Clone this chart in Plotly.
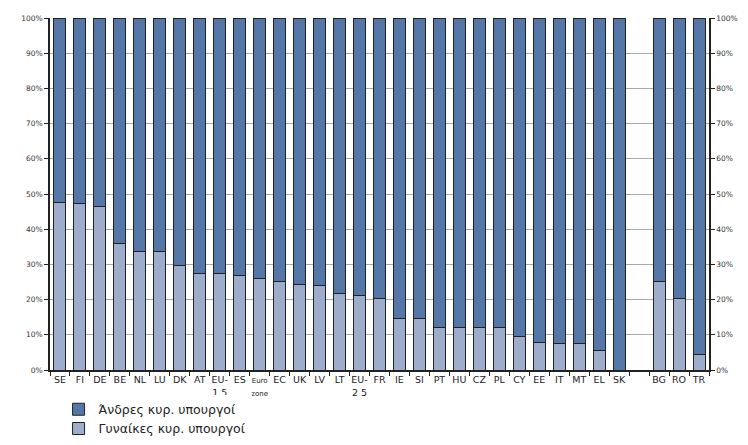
import plotly.graph_objects as go

categories = ["SE", "FI", "DE", "BE", "NL", "LU", "DK", "AT", "EU-15", "ES", "Euro zone", "EC", "UK",
              "LV", "LT", "EU-25", "FR", "IE", "SI", "PT", "HU", "CZ", "PL", "CY", "EE", "IT", "MT",
              "EL", "SK", " ", "BG", "RO", "TR"]
tick_labels = ["SE", "FI", "DE", "BE", "NL", "LU", "DK", "AT", "EU-<br>1 5", "ES",
               "<span style='font-size:7px'>Euro<br>zone</span>", "EC", "UK",
               "LV", "LT", "EU-<br>2 5", "FR", "IE", "SI", "PT", "HU", "CZ", "PL", "CY", "EE", "IT", "MT",
               "EL", "SK", "", "BG", "RO", "TR"]
women = [47.5, 47.2, 46.4, 35.8, 33.7, 33.7, 29.7, 27.4, 27.4, 26.8, 25.9, 25.2, 24.2,
         23.9, 21.6, 21.3, 20.3, 14.7, 14.7, 12.1, 12.1, 12.1, 12.1, 9.5, 7.8, 7.5, 7.5,
         5.5, 0.0, None, 25.2, 20.3, 4.5]
men = [None if w is None else 100 - w for w in women]
y_ticks = [0, 10, 20, 30, 40, 50, 60, 70, 80, 90, 100]
y_tick_labels = [f"{v}%" for v in y_ticks]

dark = "#5577a8"
light = "#9dadcb"
font = "DejaVu Sans"

fig = go.Figure()
fig.add_trace(go.Bar(x=categories, y=women, name="Γυναίκες κυρ. υπουργοί",
                     marker=dict(color=light, line=dict(color="#222222", width=1))))
fig.add_trace(go.Bar(x=categories, y=men, name="Άνδρες κυρ. υπουργοί",
                     marker=dict(color=dark, line=dict(color="#222222", width=1))))
fig.add_trace(go.Scatter(x=[categories[0]], y=[0], yaxis="y2", mode="markers",
                         marker=dict(opacity=0), showlegend=False, hoverinfo="skip"))

fig.update_layout(
    width=748, height=445,
    barmode="stack", bargap=0.4,
    plot_bgcolor="white", paper_bgcolor="white",
    margin=dict(l=50, r=39, t=18, b=75, autoexpand=False),
    font=dict(family=font, color="#333333"),
    xaxis=dict(type="category", categoryorder="array", categoryarray=categories,
               range=[-0.5, len(categories) - 0.5],
               tickmode="array", tickvals=categories, ticktext=tick_labels,
               tickson="boundaries", ticks="outside", ticklen=4, tickcolor="#222",
               tickangle=0, automargin=False,
               showline=True, linecolor="#222", linewidth=1.5, mirror=False,
               tickfont=dict(size=9.5, family=font, color="#222"), showgrid=False),
    yaxis=dict(range=[0, 100], tickvals=y_ticks, ticktext=y_tick_labels,
               ticks="outside", ticklen=4, tickcolor="#222", automargin=False,
               showline=True, linecolor="#222", linewidth=1.5,
               gridcolor="#aaaaaa", gridwidth=1,
               tickfont=dict(size=7.5, family=font, color="#333")),
    yaxis2=dict(range=[0, 100], overlaying="y", side="right", tickvals=y_ticks,
                ticktext=y_tick_labels, ticks="outside", ticklen=4, tickcolor="#222",
                automargin=False,
                showline=True, linecolor="#222", linewidth=1.5, showgrid=False,
                tickfont=dict(size=7.5, family=font, color="#333")),
    legend=dict(x=0.013, y=-0.07, xanchor="left", yanchor="top", traceorder="reversed",
                font=dict(size=12.5, family=font, color="#222"), tracegroupgap=0,
                itemwidth=30),
    showlegend=True,
)

fig.write_html("out.html", config={"displayModeBar": False},
               post_script="document.body.style.margin='0';")
